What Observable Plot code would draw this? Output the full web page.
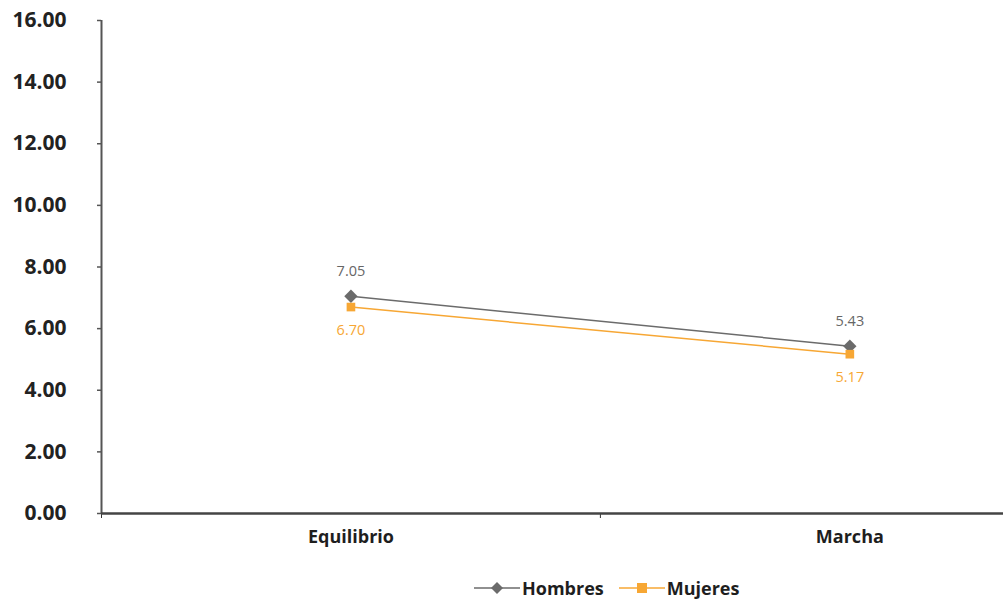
<!DOCTYPE html>
<html>
<head>
<meta charset="utf-8">
<script src="https://cdn.jsdelivr.net/npm/d3@7"></script>
<script src="https://cdn.jsdelivr.net/npm/@observablehq/plot@0.6"></script>
<style>
  body { margin: 0; background: #fff; font-family: "Open Sans", sans-serif; }
  #chart { width: 1003px; }
  .legend { display: flex; align-items: center; margin-left: 474px; margin-top: 16px; font-weight: 700; font-size: 18px; color: #1e1e1e; }
  .legend .item { display: flex; align-items: center; margin-right: 15px; }
  .legend svg { margin-right: 2px; }
</style>
</head>
<body>
<div id="chart"></div>
<script>
// Categories and series
const categories = ["Equilibrio", "Marcha"];
const hombres = [7.05, 5.43];
const mujeres = [6.70, 5.17];
const yTicks = [0, 2, 4, 6, 8, 10, 12, 14, 16];

const grayColor = "#6b6b6b";
const orangeColor = "#f7a734";

// Category i sits at the middle of band [i, i+1]
const rows = [
  ...categories.map((c, i) => ({serie: "Hombres", cat: c, pos: i + 0.5, v: hombres[i]})),
  ...categories.map((c, i) => ({serie: "Mujeres", cat: c, pos: i + 0.5, v: mujeres[i]}))
];
const H = rows.filter(d => d.serie === "Hombres");
const M = rows.filter(d => d.serie === "Mujeres");

const plot = Plot.plot({
  width: 1003,
  height: 560,
  marginLeft: 101,
  marginRight: 0,
  marginTop: 20,
  marginBottom: 47,
  style: {fontFamily: "Open Sans, sans-serif", background: "#fff", overflow: "visible"},
  x: {domain: [0, 1.808], axis: null},
  y: {domain: [0, 16], axis: null},
  marks: [
    // y axis
    Plot.axisY({ticks: yTicks, tickFormat: d => d.toFixed(2), tickSize: 4, tickPadding: 31, label: null,
      fontSize: 21, fontWeight: 700, fill: "#222", stroke: "#555", strokeWidth: 1.5}),
    Plot.ruleX([0], {y1: 0, y2: 16, stroke: "#555", strokeWidth: 2}),
    // x axis: boundary ticks and category labels
    Plot.axisX({ticks: [0, 1], tickFormat: () => "", tickSize: 5, label: null, stroke: "#333", strokeWidth: 1}),
    Plot.axisX({ticks: categories.map((c, i) => i + 0.5), tickFormat: d => categories[Math.floor(d)],
      tickSize: 0, tickPadding: 17, label: null, fontSize: 18, fontWeight: 700, fill: "#1e1e1e"}),
    Plot.ruleY([0], {stroke: "#444", strokeWidth: 2.5}),
    // series
    Plot.line(H, {x: "pos", y: "v", stroke: grayColor, strokeWidth: 1.5}),
    Plot.line(M, {x: "pos", y: "v", stroke: orangeColor, strokeWidth: 1.5}),
    Plot.dot(H, {x: "pos", y: "v", symbol: "diamond2", r: 6, fill: grayColor, stroke: "none"}),
    Plot.dot(M, {x: "pos", y: "v", symbol: "square2", r: 5.5, fill: orangeColor, stroke: "none"}),
    // value labels
    Plot.text(H, {x: "pos", y: "v", text: d => d.v.toFixed(2), dy: -25, fontSize: 14.5, fill: "#666"}),
    Plot.text(M, {x: "pos", y: "v", text: d => d.v.toFixed(2), dy: 23, fontSize: 14.5, fill: orangeColor})
  ]
});
document.getElementById("chart").appendChild(plot);

// legend
const legend = document.createElement("div");
legend.className = "legend";
legend.innerHTML = `
  <div class="item"><svg width="46" height="14"><line x1="0" y1="7" x2="46" y2="7" stroke="${grayColor}" stroke-width="1.5"/><path d="M23 1 L29 7 L23 13 L17 7 Z" fill="${grayColor}"/></svg>Hombres</div>
  <div class="item"><svg width="46" height="14"><line x1="0" y1="7" x2="46" y2="7" stroke="${orangeColor}" stroke-width="1.5"/><rect x="18" y="2" width="10" height="10" fill="${orangeColor}"/></svg>Mujeres</div>`;
document.getElementById("chart").appendChild(legend);
</script>
</body>
</html>
